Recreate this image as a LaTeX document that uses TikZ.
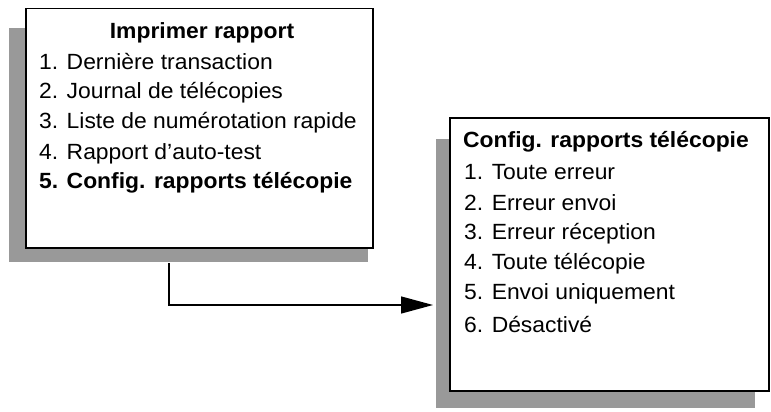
\documentclass[tikz,border=0pt]{standalone}
\usepackage{fontspec}
\setmainfont[FakeStretch=1.04]{Liberation Sans}
\usetikzlibrary{arrows.meta}
\begin{document}
\begin{tikzpicture}[x=1pt,y=-1pt,
  shadow/.style={fill=black!40,draw=none},
  box/.style={fill=white,draw=black,line width=1.5pt},
  item/.style={anchor=west,inner sep=0pt,font=\fontsize{22}{22}\selectfont},
  ttl/.style={anchor=center,inner sep=0pt,font=\fontsize{22}{22}\selectfont\bfseries}]
\useasboundingbox (0,0) rectangle (771,412);
\fill[shadow] (9,28) rectangle (368,262);
\node[box,minimum width=347pt,minimum height=239pt,anchor=north west] (b1) at (25,8) {};
\fill[shadow] (436,139) rectangle (755,408);
\node[box,minimum width=319pt,minimum height=273pt,anchor=north west] (b2) at (449,117) {};
\node[ttl] (t1) at (202,33) {Imprimer rapport};
\node[item] (a1) at (39,62) {1. Dernière transaction};
\node[item] (a2) at (39,93) {2. Journal de télécopies};
\node[item] (a3) at (39,123) {3. Liste de numérotation rapide};
\node[item] (a4) at (39,154) {4. Rapport d'auto-test};
\node[item,font=\fontsize{22}{22}\selectfont\bfseries] (a5) at (39,183) {5. Config. rapports télécopie};
\node[ttl] (t2) at (606,142) {Config. rapports télécopie};
\node[item] (c1) at (464,172) {1. Toute erreur};
\node[item] (c2) at (464,203) {2. Erreur envoi};
\node[item] (c3) at (464,234) {3. Erreur réception};
\node[item] (c4) at (464,264) {4. Toute télécopie};
\node[item] (c5) at (464,294) {5. Envoi uniquement};
\node[item] (c6) at (464,325) {6. Désactivé};
\coordinate (s) at (169,263);
\coordinate (e) at (433,305);
\draw[line width=1.3pt,-{Triangle[length=32pt,width=17pt]}] (s) |- (e);
\end{tikzpicture}
\end{document}
